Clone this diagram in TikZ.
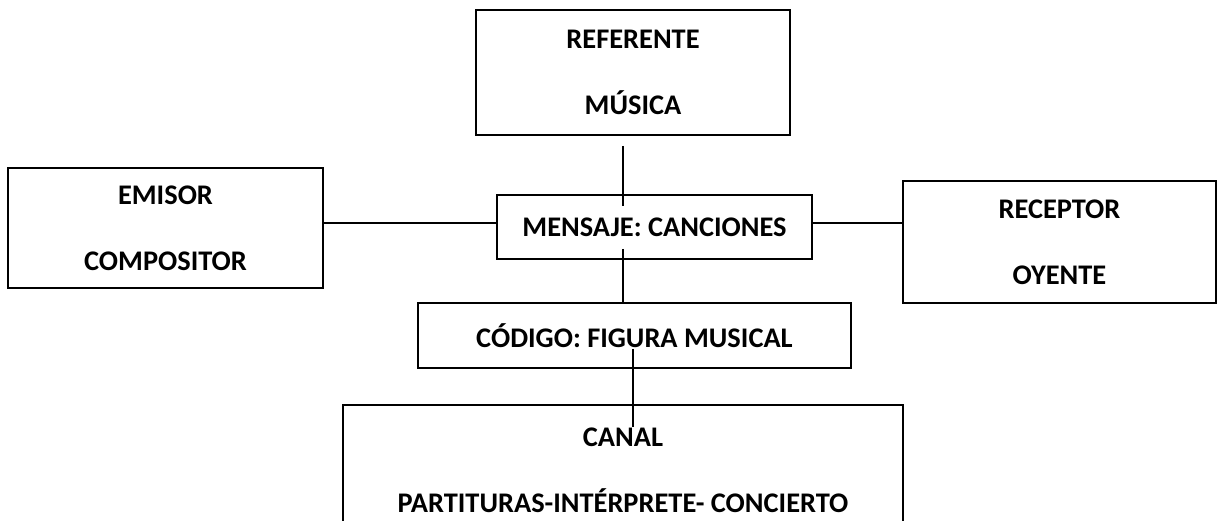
\documentclass[tikz,border=0pt]{standalone}
\usepackage{fontspec}
\setmainfont{Carlito}

\begin{document}
\begin{tikzpicture}[x=0.5pt,y=-0.5pt,
  caja/.style={draw,line width=0.9pt,align=center,inner sep=0pt,font=\fontsize{14.2pt}{33pt}\selectfont\bfseries},
  linea/.style={line width=0.85pt}]
\clip (0,0) rectangle (1221,520);
\node[caja,minimum width=157pt,minimum height=62.5pt] (referente) at (633,72.5) {REFERENTE\\MÚSICA};
\node[caja,minimum width=157.5pt,minimum height=60pt] (emisor) at (165.5,228) {EMISOR\\COMPOSITOR};
\node[caja,minimum width=157.5pt,minimum height=32pt] (mensaje) at (654.5,227) {MENSAJE: CANCIONES};
\node[caja,minimum width=156.5pt,minimum height=61pt] (receptor) at (1059.5,242) {RECEPTOR\\OYENTE};
\node[caja,minimum width=216.5pt,minimum height=32.5pt] (codigo) at (634.5,335.5) {CÓDIGO: FIGURA MUSICAL};
\node[caja,minimum width=280pt,minimum height=65pt] (canal) at (623,470) {CANAL\\PARTITURAS-INTÉRPRETE- CONCIERTO};
\draw[linea] ([xshift=-5pt,yshift=-5pt]referente.south) -- ([xshift=-15.75pt,yshift=-6pt]mensaje.north);
\draw[linea] ([xshift=-15.75pt,yshift=5.5pt]mensaje.south) -- ([xshift=-5.75pt]codigo.north);
\draw[linea] ([yshift=2.5pt]emisor.east) -- ([yshift=2pt]mensaje.west);
\draw[linea] ([yshift=2pt]mensaje.east) -- ([yshift=9.5pt]receptor.west);
\draw[linea] ([xshift=-0.75pt,yshift=10pt]codigo.south) -- ([xshift=5pt,yshift=-11.5pt]canal.north);
\end{tikzpicture}
\end{document}
